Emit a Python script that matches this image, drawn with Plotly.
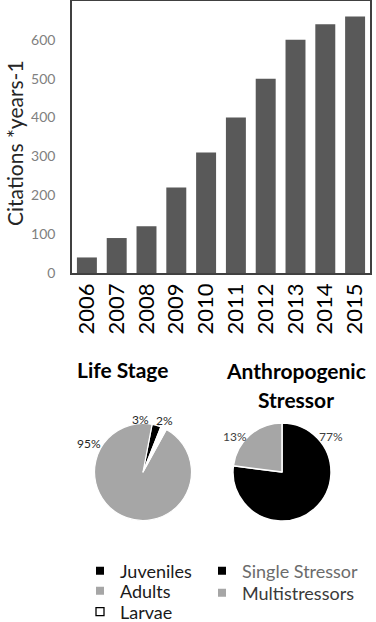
import plotly.graph_objects as go

W, H = 376, 622

years = ["2006", "2007", "2008", "2009", "2010", "2011", "2012", "2013", "2014", "2015"]
citations = [40, 90, 120, 220, 310, 400, 500, 600, 640, 660]
y_ticks = [0, 100, 200, 300, 400, 500, 600, 700]

life_labels = ["Juveniles", "Adults", "Larvae"]
life_values = [3, 95, 2]
life_colors = ["#000000", "#a6a6a6", "#ffffff"]

stress_labels = ["Single Stressor", "Multistressors"]
stress_values = [77, 23]
stress_text = ["77%", "13%"]
stress_colors = ["#000000", "#a6a6a6"]

FONT = "Lato"

def px(x): return x / W
def py(y): return 1 - y / H

fig = go.Figure()
fig.add_trace(go.Bar(x=years, y=citations, marker=dict(color="#595959", line=dict(width=0)),
                     showlegend=False, xaxis="x", yaxis="y"))

fig.add_trace(go.Pie(labels=life_labels, values=life_values, sort=False,
                     direction="counterclockwise", rotation=10.8,
                     marker=dict(colors=life_colors, line=dict(color="white", width=1.2)),
                     textinfo="none", hoverinfo="label+percent", showlegend=False,
                     domain=dict(x=[px(94.5), px(191.5)], y=[py(520.5), py(423.5)])))
fig.add_trace(go.Pie(labels=stress_labels, values=stress_values, sort=False,
                     direction="clockwise", rotation=0,
                     marker=dict(colors=stress_colors, line=dict(color="white", width=1.5)),
                     textinfo="none", hoverinfo="label+percent", showlegend=False,
                     domain=dict(x=[px(233), px(331)], y=[py(521), py(423)])))

# legend key entries (one legend per entry so spacing can match the reference)
legend_specs = []  # (label, color, legend id, x px, y px, text color)
left_y = [571, 591, 612]
right_y = [571, 593]
for i, (lab, col) in enumerate(zip(life_labels, life_colors)):
    legend_specs.append((lab, col, f"legend{i + 1}" if i else "legend", 80, left_y[i], "#1a1a1a"))
right_text_colors = ["#6b6b6b", "#3a3a3a"]
for j, (lab, col) in enumerate(zip(stress_labels, stress_colors)):
    legend_specs.append((lab, col, f"legend{j + 4}", 202, right_y[j], right_text_colors[j]))

legend_layouts = {}
for lab, col, lid, lx, ly, tcol in legend_specs:
    if col == "#ffffff":
        marker = dict(symbol="square-open", size=8, color="#000000", line=dict(width=1.3, color="#000000"))
    else:
        marker = dict(symbol="square", size=8, color=col, line=dict(width=0))
    fig.add_trace(go.Scatter(x=[None], y=[None], mode="markers", name=lab, marker=marker,
                             legend=lid, showlegend=True, hoverinfo="skip"))
    legend_layouts[lid] = dict(x=px(lx), y=py(ly), xanchor="left", yanchor="middle",
                               bgcolor="rgba(0,0,0,0)",
                               font=dict(family=FONT, size=18, color=tcol))

def ann(text, x, y, size, color, angle=0):
    return dict(text=text, x=px(x), y=py(y), xref="paper", yref="paper",
                xanchor="center", yanchor="middle", textangle=angle, showarrow=False,
                font=dict(family=FONT, size=size, color=color))

annotations = [
    ann("Citations *years-1", 14, 143, 21, "#262626", -90),
    ann("<b>Life Stage</b>", 122, 369, 21, "#000000"),
    ann("<b>Anthropogenic</b>", 296, 370, 21, "#000000"),
    ann("<b>Stressor</b>", 296, 399, 21, "#000000"),
    ann(f"{life_values[1]}%", 89, 443, 12, "#262626"),
    ann(f"{life_values[0]}%", 140, 419, 12, "#262626"),
    ann(f"{life_values[2]}%", 164, 420, 12, "#262626"),
    ann(stress_text[1], 235, 436, 12, "#404040"),
    ann(stress_text[0], 331, 436, 12, "#404040"),
]

fig.update_layout(
    width=W, height=H, autosize=False,
    margin=dict(l=0, r=0, t=0, b=0, pad=0, autoexpand=False),
    paper_bgcolor="white", plot_bgcolor="white",
    bargap=0.33,
    xaxis=dict(domain=[px(72), px(370)], type="category", showline=True, mirror=True,
               linecolor="#404040", linewidth=1.5, ticks="", tickangle=-90,
               tickfont=dict(family=FONT, size=22, color="#000000"), showgrid=False),
    yaxis=dict(domain=[py(273), py(1)], range=[0, 700], tickvals=y_ticks, showline=True, mirror=True,
               linecolor="#404040", linewidth=1.5, ticks="", ticklabelstandoff=12,
               tickfont=dict(family=FONT, size=14, color="#808080"), showgrid=False, zeroline=False),
    annotations=annotations,
    **legend_layouts,
)

fig.write_html("out.html")
